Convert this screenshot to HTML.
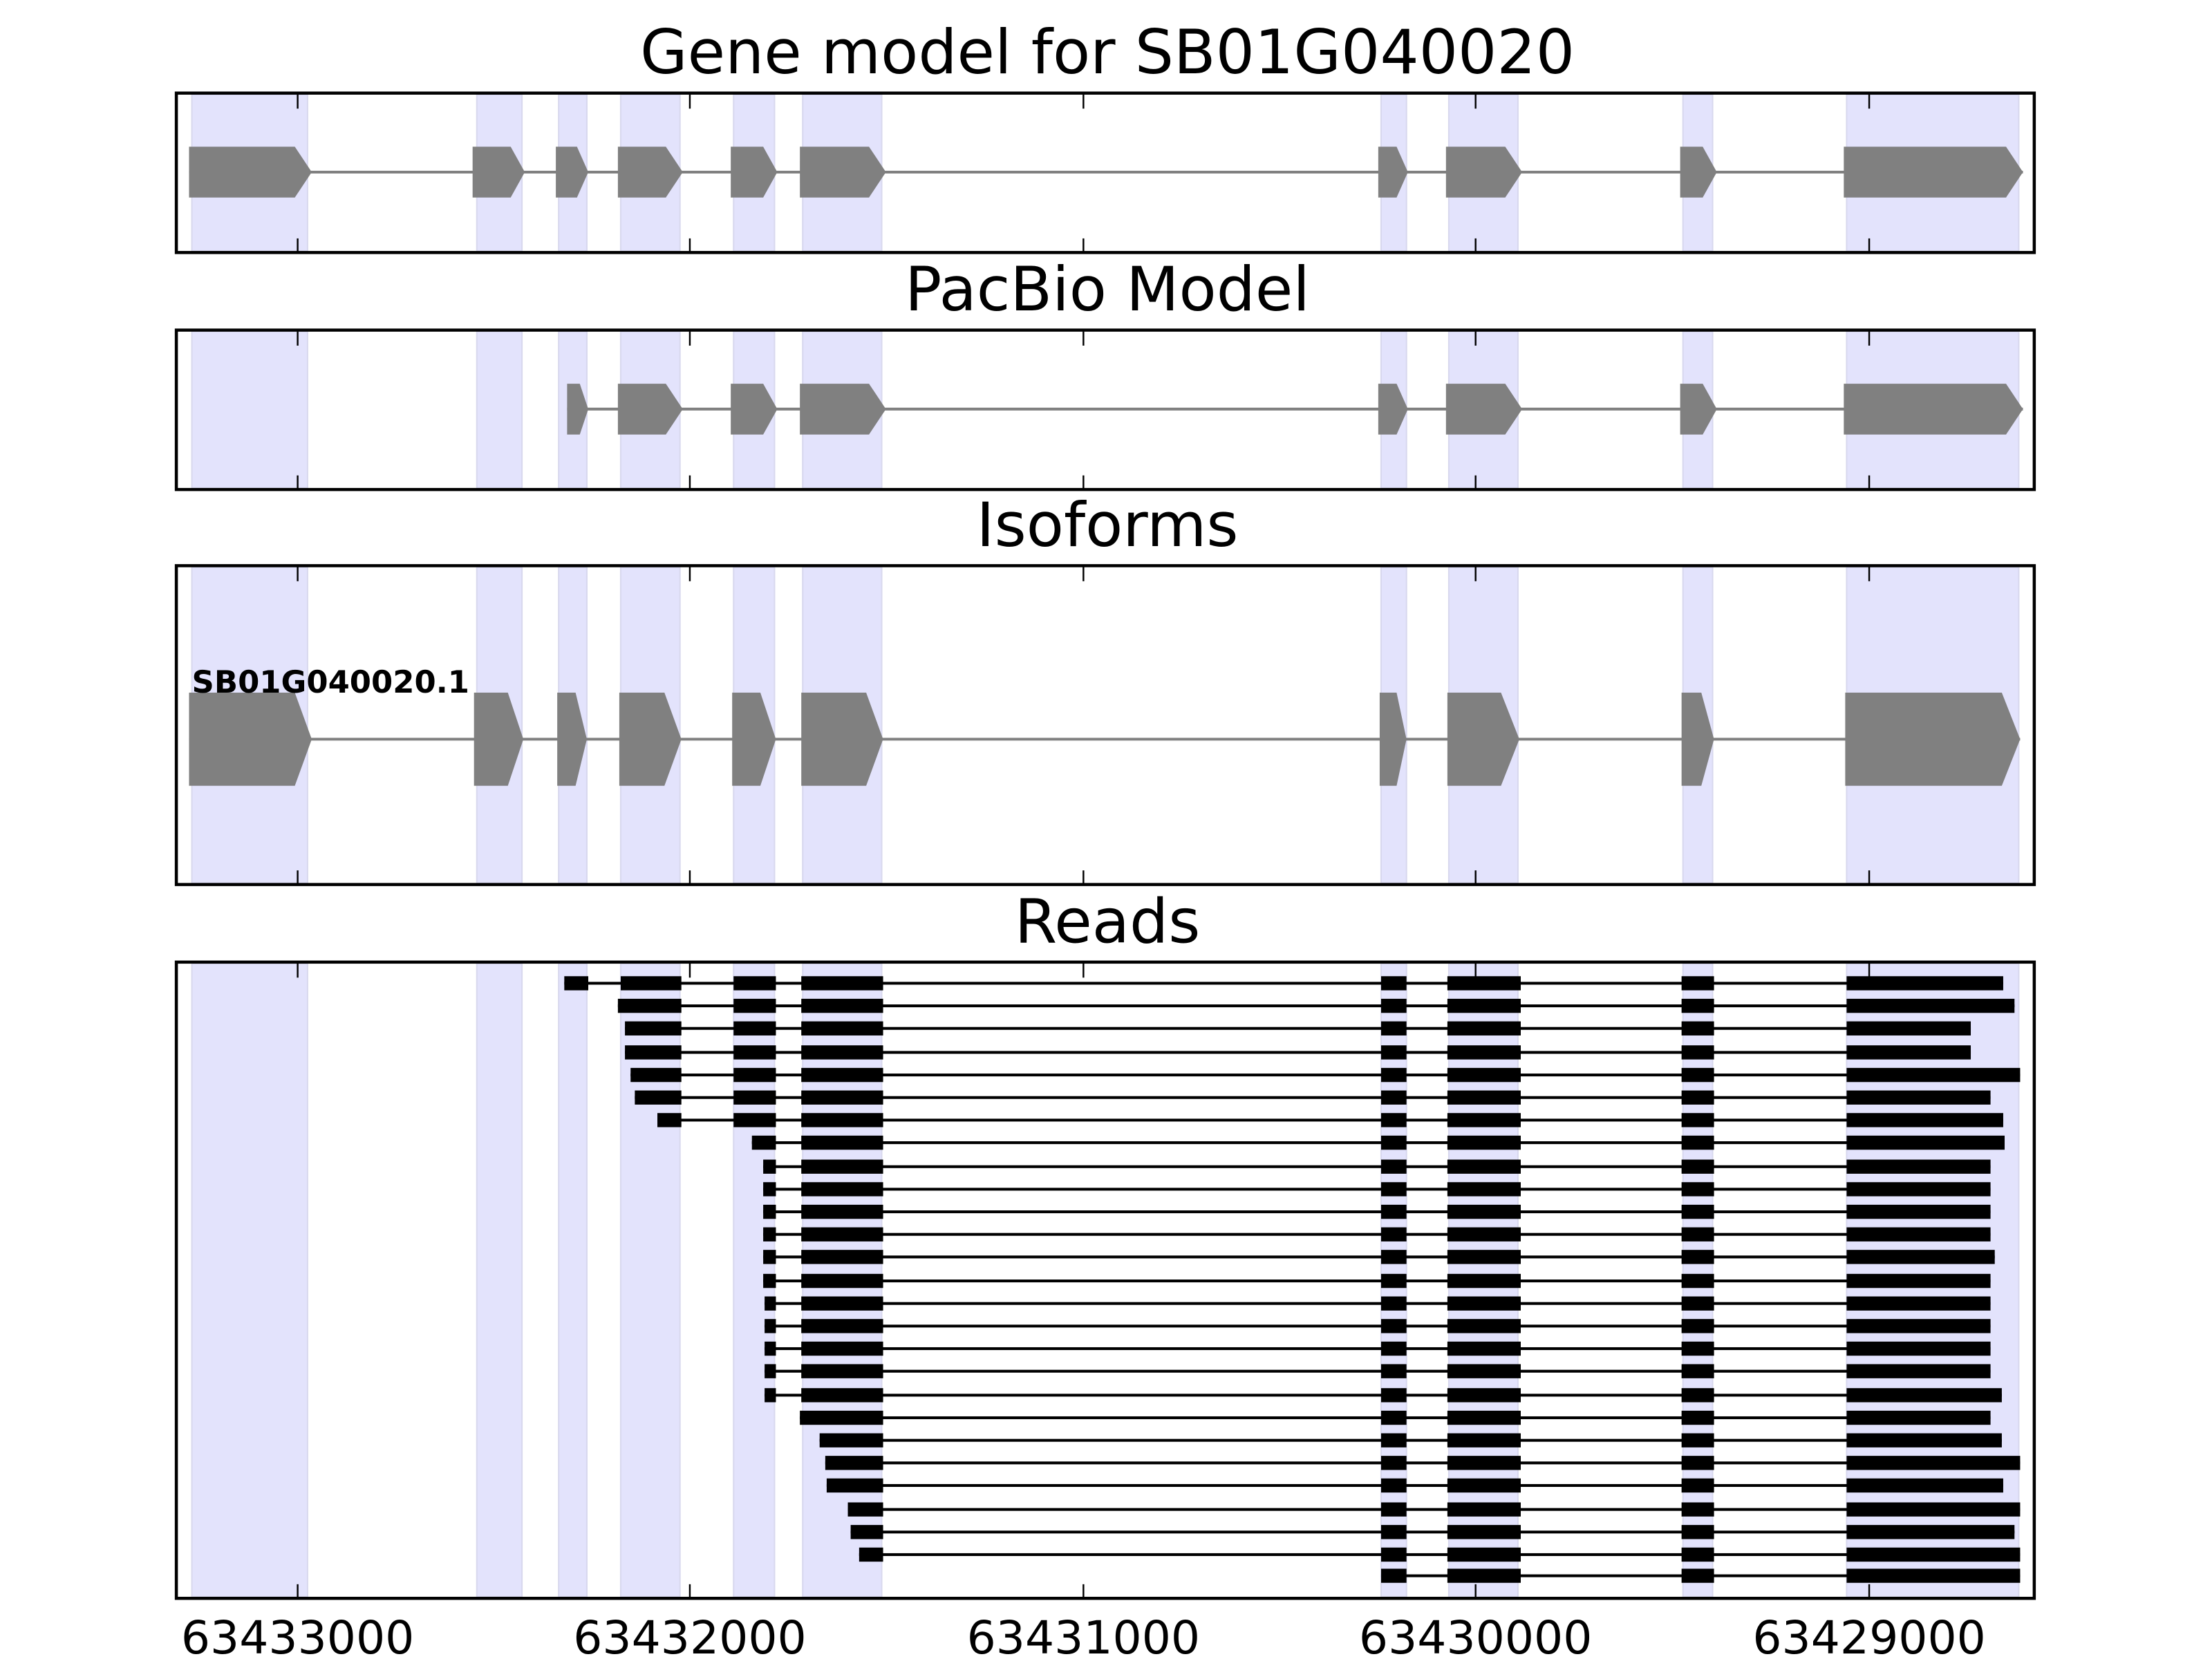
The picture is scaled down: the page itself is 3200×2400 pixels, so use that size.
<!DOCTYPE html>
<html><head><meta charset="utf-8"><style>html,body{margin:0;padding:0;background:#fff}svg{display:block}</style></head>
<body>
<svg width="3200" height="2400" viewBox="0 0 1568 1176" xmlns="http://www.w3.org/2000/svg" font-family="DejaVu Sans, Liberation Sans, sans-serif">
<defs>
<g id="t"><rect x="979" y="-5" width="18" height="10"/><rect x="1026" y="-5" width="52" height="10"/><rect x="1192" y="-5" width="23" height="10"/></g>
<g id="m"><rect x="520" y="-5" width="30" height="10"/></g>
<g id="k"><rect x="568" y="-5" width="58" height="10"/></g>
<g id="tk" stroke="#000" stroke-width="1.2"><line x1="211" x2="211" y1="0" y2="10"/><line x1="489" x2="489" y1="0" y2="10"/><line x1="768" x2="768" y1="0" y2="10"/><line x1="1046" x2="1046" y1="0" y2="10"/><line x1="1325" x2="1325" y1="0" y2="10"/></g>
<g id="tkb" stroke="#000" stroke-width="1.2"><line x1="211" x2="211" y1="0" y2="-10"/><line x1="489" x2="489" y1="0" y2="-10"/><line x1="768" x2="768" y1="0" y2="-10"/><line x1="1046" x2="1046" y1="0" y2="-10"/><line x1="1325" x2="1325" y1="0" y2="-10"/></g>
</defs>
<g font-size="43.4" text-anchor="middle" fill="#000">
<text x="785" y="52">Gene model for SB01G040020</text>
<text x="785" y="220">PacBio Model</text>
<text x="785" y="387">Isoforms</text>
<text x="785" y="668">Reads</text>
</g>
<!-- shades -->
<g fill="#e3e3fc" stroke="#d8d8ee" stroke-width="1">
<g>
<rect x="136" y="67" width="82" height="111"/><rect x="338" y="67" width="32" height="111"/><rect x="396" y="67" width="20" height="111"/><rect x="440" y="67" width="42" height="111"/><rect x="520" y="67" width="29" height="111"/><rect x="569" y="67" width="56" height="111"/><rect x="979" y="67" width="18" height="111"/><rect x="1027" y="67" width="49" height="111"/><rect x="1193" y="67" width="21" height="111"/><rect x="1309" y="67" width="122" height="111"/>
</g>
<g>
<rect x="136" y="235" width="82" height="111"/><rect x="338" y="235" width="32" height="111"/><rect x="396" y="235" width="20" height="111"/><rect x="440" y="235" width="42" height="111"/><rect x="520" y="235" width="29" height="111"/><rect x="569" y="235" width="56" height="111"/><rect x="979" y="235" width="18" height="111"/><rect x="1027" y="235" width="49" height="111"/><rect x="1193" y="235" width="21" height="111"/><rect x="1309" y="235" width="122" height="111"/>
</g>
<g>
<rect x="136" y="402" width="82" height="224"/><rect x="338" y="402" width="32" height="224"/><rect x="396" y="402" width="20" height="224"/><rect x="440" y="402" width="42" height="224"/><rect x="520" y="402" width="29" height="224"/><rect x="569" y="402" width="56" height="224"/><rect x="979" y="402" width="18" height="224"/><rect x="1027" y="402" width="49" height="224"/><rect x="1193" y="402" width="21" height="224"/><rect x="1309" y="402" width="122" height="224"/>
</g>
<g>
<rect x="136" y="683" width="82" height="449"/><rect x="338" y="683" width="32" height="449"/><rect x="396" y="683" width="20" height="449"/><rect x="440" y="683" width="42" height="449"/><rect x="520" y="683" width="29" height="449"/><rect x="569" y="683" width="56" height="449"/><rect x="979" y="683" width="18" height="449"/><rect x="1027" y="683" width="49" height="449"/><rect x="1193" y="683" width="21" height="449"/><rect x="1309" y="683" width="122" height="449"/>
</g>
</g>
<!-- Panel 1 -->
<line x1="134" x2="1434" y1="122" y2="122" stroke="#808080" stroke-width="2"/>
<g fill="#808080">
<polygon points="134,104 209,104 221,122 209,140 134,140"/><polygon points="335,104 362,104 372,122 362,140 335,140"/><polygon points="394,104 409,104 417,122 409,140 394,140"/>
<polygon points="438,104 472,104 484,122 472,140 438,140"/><polygon points="518,104 541,104 551,122 541,140 518,140"/><polygon points="567,104 616,104 628,122 616,140 567,140"/><polygon points="977,104 990,104 998,122 990,140 977,140"/><polygon points="1025,104 1067,104 1079,122 1067,140 1025,140"/><polygon points="1191,104 1207,104 1217,122 1207,140 1191,140"/><polygon points="1307,104 1422,104 1434,122 1422,140 1307,140"/>
</g>
<use href="#tk" transform="translate(0,67)"/><use href="#tkb" transform="translate(0,179)"/>
<rect x="125" y="66" width="1317" height="113" fill="none" stroke="#000" stroke-width="2.2"/>
<!-- Panel 2 -->
<line x1="402" x2="1434" y1="290" y2="290" stroke="#808080" stroke-width="2"/>
<g fill="#808080">
<polygon points="402,272 411,272 417,290 411,308 402,308"/>
<polygon points="438,272 472,272 484,290 472,308 438,308"/><polygon points="518,272 541,272 551,290 541,308 518,308"/><polygon points="567,272 616,272 628,290 616,308 567,308"/><polygon points="977,272 990,272 998,290 990,308 977,308"/><polygon points="1025,272 1067,272 1079,290 1067,308 1025,308"/><polygon points="1191,272 1207,272 1217,290 1207,308 1191,308"/><polygon points="1307,272 1422,272 1434,290 1422,308 1307,308"/>
</g>
<use href="#tk" transform="translate(0,235)"/><use href="#tkb" transform="translate(0,347)"/>
<rect x="125" y="234" width="1317" height="113" fill="none" stroke="#000" stroke-width="2.2"/>
<!-- Panel 3 -->
<line x1="134" x2="1432" y1="524" y2="524" stroke="#808080" stroke-width="2"/>
<g fill="#808080">
<polygon points="134,491 209,491 221,524 209,557 134,557"/><polygon points="336,491 360,491 371,524 360,557 336,557"/><polygon points="395,491 408,491 416,524 408,557 395,557"/>
<polygon points="439,491 471,491 483,524 471,557 439,557"/><polygon points="519,491 539,491 550,524 539,557 519,557"/><polygon points="568,491 614,491 626,524 614,557 568,557"/><polygon points="978,491 990,491 997,524 990,557 978,557"/><polygon points="1026,491 1064,491 1077,524 1064,557 1026,557"/><polygon points="1192,491 1206,491 1215,524 1206,557 1192,557"/><polygon points="1308,491 1419,491 1432,524 1419,557 1308,557"/>
</g>
<text x="136" y="491" font-size="22" font-weight="bold" fill="#000">SB01G040020.1</text>
<use href="#tk" transform="translate(0,402)"/><use href="#tkb" transform="translate(0,627)"/>
<rect x="125" y="401" width="1317" height="226" fill="none" stroke="#000" stroke-width="2.2"/>
<!-- Panel 4 -->
<g fill="#000" stroke="none">
<g transform="translate(0,697)"><rect x="400" y="-1" width="1020" height="2"/><rect x="400" y="-5" width="17" height="10"/><rect x="440" y="-5" width="43" height="10"/><use href="#m"/><use href="#k"/><use href="#t"/><rect x="1309" y="-5" width="111" height="10"/></g>
<g transform="translate(0,713)"><rect x="438" y="-1" width="990" height="2"/><rect x="438" y="-5" width="45" height="10"/><use href="#m"/><use href="#k"/><use href="#t"/><rect x="1309" y="-5" width="119" height="10"/></g>
<g transform="translate(0,729)"><rect x="443" y="-1" width="954" height="2"/><rect x="443" y="-5" width="40" height="10"/><use href="#m"/><use href="#k"/><use href="#t"/><rect x="1309" y="-5" width="88" height="10"/></g>
<g transform="translate(0,746)"><rect x="443" y="-1" width="954" height="2"/><rect x="443" y="-5" width="40" height="10"/><use href="#m"/><use href="#k"/><use href="#t"/><rect x="1309" y="-5" width="88" height="10"/></g>
<g transform="translate(0,762)"><rect x="447" y="-1" width="985" height="2"/><rect x="447" y="-5" width="36" height="10"/><use href="#m"/><use href="#k"/><use href="#t"/><rect x="1309" y="-5" width="123" height="10"/></g>
<g transform="translate(0,778)"><rect x="450" y="-1" width="961" height="2"/><rect x="450" y="-5" width="33" height="10"/><use href="#m"/><use href="#k"/><use href="#t"/><rect x="1309" y="-5" width="102" height="10"/></g>
<g transform="translate(0,794)"><rect x="466" y="-1" width="954" height="2"/><rect x="466" y="-5" width="17" height="10"/><use href="#m"/><use href="#k"/><use href="#t"/><rect x="1309" y="-5" width="111" height="10"/></g>
<g transform="translate(0,810)"><rect x="533" y="-1" width="888" height="2"/><rect x="533" y="-5" width="17" height="10"/><use href="#k"/><use href="#t"/><rect x="1309" y="-5" width="112" height="10"/></g>
<g transform="translate(0,827)"><rect x="541" y="-1" width="870" height="2"/><rect x="541" y="-5" width="9" height="10"/><use href="#k"/><use href="#t"/><rect x="1309" y="-5" width="102" height="10"/></g>
<g transform="translate(0,843)"><rect x="541" y="-1" width="870" height="2"/><rect x="541" y="-5" width="9" height="10"/><use href="#k"/><use href="#t"/><rect x="1309" y="-5" width="102" height="10"/></g>
<g transform="translate(0,859)"><rect x="541" y="-1" width="870" height="2"/><rect x="541" y="-5" width="9" height="10"/><use href="#k"/><use href="#t"/><rect x="1309" y="-5" width="102" height="10"/></g>
<g transform="translate(0,875)"><rect x="541" y="-1" width="870" height="2"/><rect x="541" y="-5" width="9" height="10"/><use href="#k"/><use href="#t"/><rect x="1309" y="-5" width="102" height="10"/></g>
<g transform="translate(0,891)"><rect x="541" y="-1" width="873" height="2"/><rect x="541" y="-5" width="9" height="10"/><use href="#k"/><use href="#t"/><rect x="1309" y="-5" width="105" height="10"/></g>
<g transform="translate(0,908)"><rect x="541" y="-1" width="870" height="2"/><rect x="541" y="-5" width="9" height="10"/><use href="#k"/><use href="#t"/><rect x="1309" y="-5" width="102" height="10"/></g>
<g transform="translate(0,924)"><rect x="542" y="-1" width="869" height="2"/><rect x="542" y="-5" width="8" height="10"/><use href="#k"/><use href="#t"/><rect x="1309" y="-5" width="102" height="10"/></g>
<g transform="translate(0,940)"><rect x="542" y="-1" width="869" height="2"/><rect x="542" y="-5" width="8" height="10"/><use href="#k"/><use href="#t"/><rect x="1309" y="-5" width="102" height="10"/></g>
<g transform="translate(0,956)"><rect x="542" y="-1" width="869" height="2"/><rect x="542" y="-5" width="8" height="10"/><use href="#k"/><use href="#t"/><rect x="1309" y="-5" width="102" height="10"/></g>
<g transform="translate(0,972)"><rect x="542" y="-1" width="869" height="2"/><rect x="542" y="-5" width="8" height="10"/><use href="#k"/><use href="#t"/><rect x="1309" y="-5" width="102" height="10"/></g>
<g transform="translate(0,989)"><rect x="542" y="-1" width="877" height="2"/><rect x="542" y="-5" width="8" height="10"/><use href="#k"/><use href="#t"/><rect x="1309" y="-5" width="110" height="10"/></g>
<g transform="translate(0,1005)"><rect x="567" y="-1" width="844" height="2"/><rect x="567" y="-5" width="59" height="10"/><use href="#t"/><rect x="1309" y="-5" width="102" height="10"/></g>
<g transform="translate(0,1021)"><rect x="581" y="-1" width="838" height="2"/><rect x="581" y="-5" width="45" height="10"/><use href="#t"/><rect x="1309" y="-5" width="110" height="10"/></g>
<g transform="translate(0,1037)"><rect x="585" y="-1" width="847" height="2"/><rect x="585" y="-5" width="41" height="10"/><use href="#t"/><rect x="1309" y="-5" width="123" height="10"/></g>
<g transform="translate(0,1053)"><rect x="586" y="-1" width="834" height="2"/><rect x="586" y="-5" width="40" height="10"/><use href="#t"/><rect x="1309" y="-5" width="111" height="10"/></g>
<g transform="translate(0,1070)"><rect x="601" y="-1" width="831" height="2"/><rect x="601" y="-5" width="25" height="10"/><use href="#t"/><rect x="1309" y="-5" width="123" height="10"/></g>
<g transform="translate(0,1086)"><rect x="603" y="-1" width="825" height="2"/><rect x="603" y="-5" width="23" height="10"/><use href="#t"/><rect x="1309" y="-5" width="119" height="10"/></g>
<g transform="translate(0,1102)"><rect x="609" y="-1" width="823" height="2"/><rect x="609" y="-5" width="17" height="10"/><use href="#t"/><rect x="1309" y="-5" width="123" height="10"/></g>
<g transform="translate(0,1117)"><rect x="979" y="-1" width="453" height="2"/><use href="#t"/><rect x="1309" y="-5" width="123" height="10"/></g>
</g>
<use href="#tk" transform="translate(0,683)"/><use href="#tkb" transform="translate(0,1133)"/>
<rect x="125" y="682" width="1317" height="451" fill="none" stroke="#000" stroke-width="2.2"/>
<g font-size="32.5" text-anchor="middle" fill="#000">
<text x="211" y="1172">63433000</text><text x="489" y="1172">63432000</text><text x="768" y="1172">63431000</text><text x="1046" y="1172">63430000</text><text x="1325" y="1172">63429000</text>
</g>
</svg>
</body></html>
